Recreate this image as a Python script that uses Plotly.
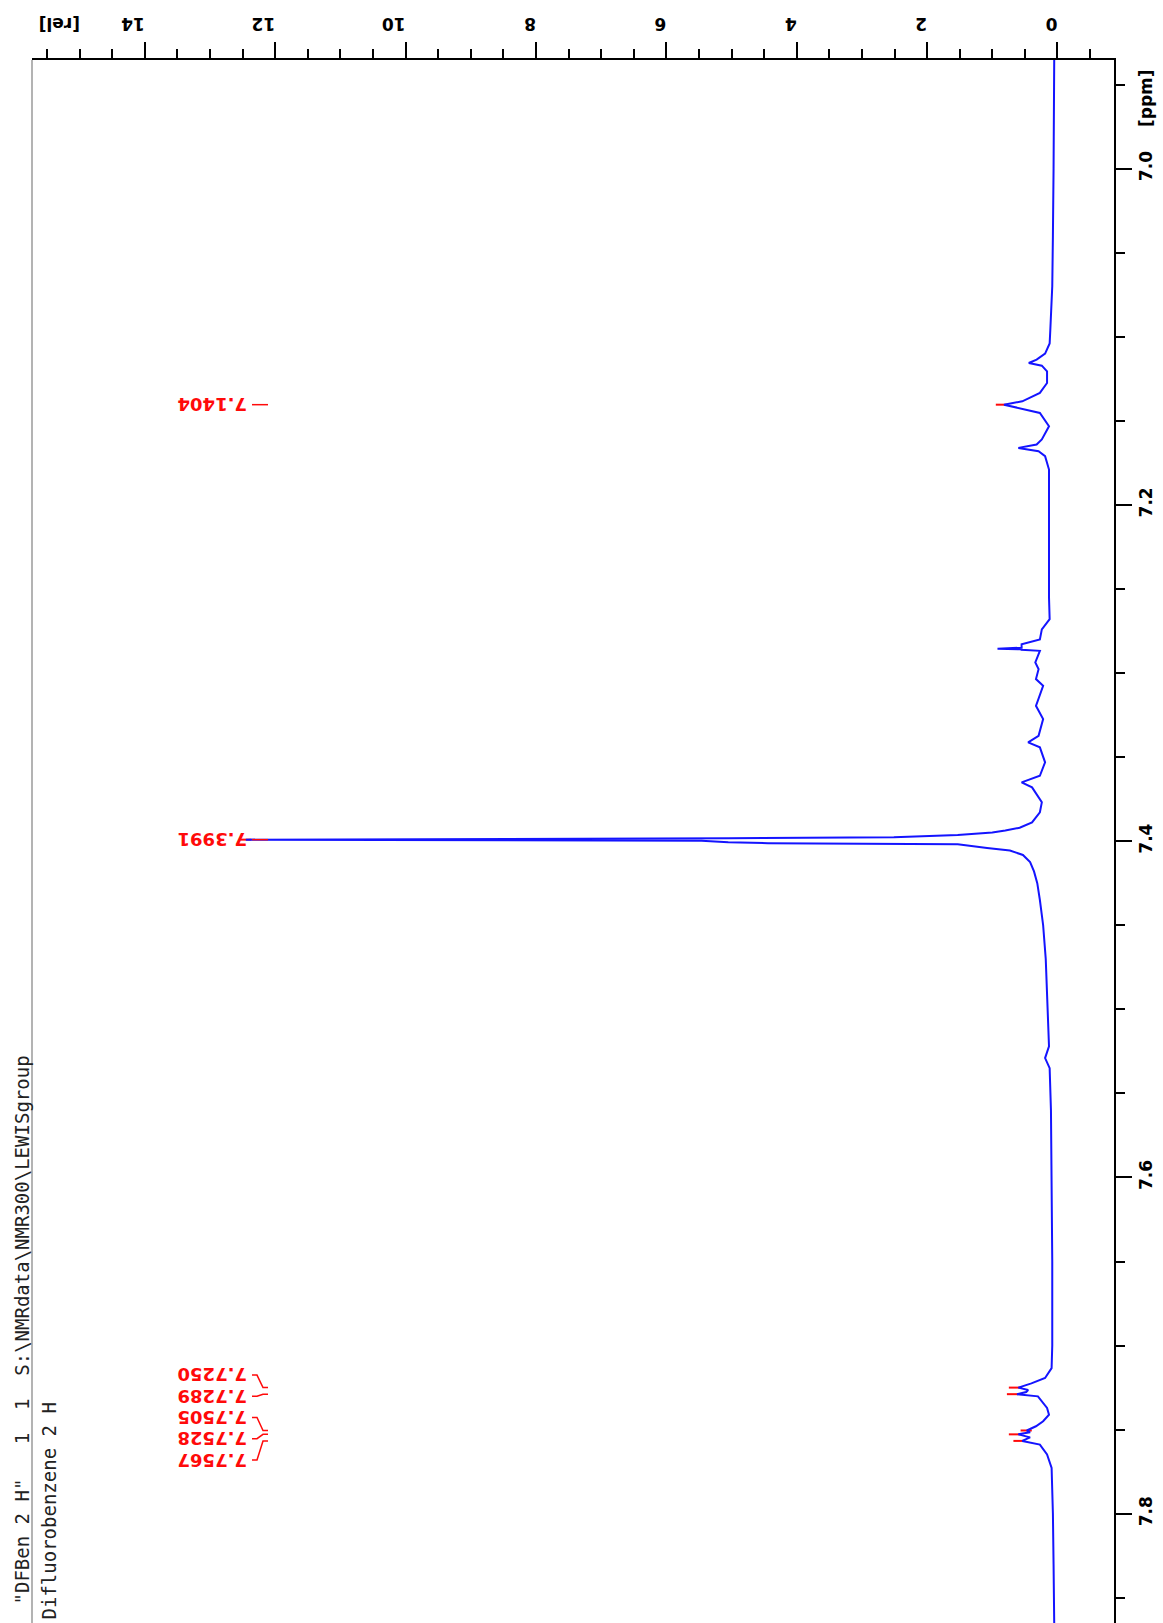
import plotly.graph_objects as go

# 1H NMR trace of difluorobenzene (chemical shift in ppm vs. relative intensity)
spec_ppm = [
    6.935, 6.960, 7.000, 7.040, 7.070, 7.096, 7.104, 7.110, 7.1136, 7.1156,
    7.1172, 7.1206, 7.1275, 7.1334, 7.1384, 7.1404, 7.1433, 7.1453, 7.1532, 7.1611,
    7.1641, 7.1661, 7.1681, 7.1710, 7.1790, 7.200, 7.230, 7.255, 7.268, 7.274,
    7.280, 7.2829, 7.2849, 7.2852, 7.2856, 7.2859, 7.2862, 7.2868, 7.2937, 7.2977,
    7.3036, 7.3076, 7.3195, 7.3274, 7.3373, 7.3412, 7.3442, 7.3531, 7.3611, 7.3650,
    7.3680, 7.3769, 7.3828, 7.3888, 7.3920, 7.3937, 7.3949, 7.3963, 7.3977, 7.3983,
    7.3991, 7.3997, 7.4006, 7.4012, 7.4018, 7.4040, 7.4056, 7.4082, 7.4124, 7.418,
    7.425, 7.435, 7.450, 7.470, 7.500, 7.522, 7.529, 7.535, 7.560, 7.600,
    7.650, 7.700, 7.7134, 7.7193, 7.7225, 7.7250, 7.7264, 7.7276, 7.7289, 7.7302,
    7.7340, 7.7371, 7.7411, 7.7450, 7.7480, 7.7505, 7.7516, 7.7528, 7.7546, 7.7567,
    7.7589, 7.7648, 7.7727, 7.800, 7.830, 7.865,
]
spec_int = [
    0.05, 0.05, 0.06, 0.07, 0.08, 0.11, 0.12, 0.19, 0.32, 0.44,
    0.24, 0.16, 0.16, 0.27, 0.54, 0.82, 0.50, 0.27, 0.13, 0.24,
    0.32, 0.60, 0.29, 0.19, 0.13, 0.13, 0.14, 0.13, 0.12, 0.24,
    0.27, 0.55, 0.55, 0.92, 0.92, 0.55, 0.55, 0.27, 0.34, 0.29,
    0.33, 0.22, 0.33, 0.22, 0.29, 0.45, 0.27, 0.19, 0.27, 0.55,
    0.39, 0.24, 0.27, 0.39, 0.58, 0.80, 1.00, 1.53, 2.51, 5.05,
    12.45, 5.46, 5.05, 4.44, 1.53, 1.08, 0.73, 0.53, 0.42, 0.36,
    0.31, 0.27, 0.22, 0.18, 0.15, 0.13, 0.19, 0.12, 0.10, 0.09,
    0.08, 0.08, 0.09, 0.19, 0.40, 0.60, 0.45, 0.48, 0.62, 0.30,
    0.22, 0.16, 0.13, 0.22, 0.33, 0.47, 0.42, 0.60, 0.42, 0.54,
    0.27, 0.16, 0.09, 0.07, 0.06, 0.05,
]

# picked peaks and the intensity of their pick marks
peak_ppm = [7.1404, 7.3991, 7.7250, 7.7289, 7.7505, 7.7528, 7.7567]
pick_int = [0.86, 12.45, 0.66, 0.69, 0.48, 0.66, 0.59]

int_ticks = [0, 2, 4, 6, 8, 10, 12, 14]
ppm_ticks = [7.0, 7.2, 7.4, 7.6, 7.8]

NB = "\u00a0"
header_line1 = '"DFBen 2 H"' + NB * 3 + "1" + NB * 2 + "1" + NB * 2 + "S:\\NMRdata\\NMR300\\LEWISgroup"
header_line2 = "Difluorobenzene 2 H"

# ---- figure geometry -------------------------------------------------------
W, H = 1163, 1623
ML, MR, MT, MB = 32, 49, 60, 0
PW, PH = W - ML - MR, H - MT - MB
X_RANGE = [15.73, -0.867]     # intensity axis, reversed (0 on the right)
Y_RANGE = [7.865, 6.9354]     # ppm axis, increasing downward


def px_to_int(X):
    return X_RANGE[0] + (X - ML) / PW * (X_RANGE[1] - X_RANGE[0])


def px_to_paper_x(X):
    return (X - ML) / PW


def px_to_paper_y(Y):
    return (H - Y) / PH


PPM_PER_PX = (Y_RANGE[0] - Y_RANGE[1]) / PH

# spread labels of crowded peaks so they don't overlap
label_gap = 21.2 * PPM_PER_PX
clusters, cur = [], [0]
for i in range(1, len(peak_ppm)):
    if peak_ppm[i] - peak_ppm[i - 1] < 0.05:
        cur.append(i)
    else:
        clusters.append(cur)
        cur = [i]
clusters.append(cur)
label_ppm = [0.0] * len(peak_ppm)
for c in clusters:
    mean = sum(peak_ppm[i] for i in c) / len(c)
    for k, i in enumerate(c):
        label_ppm[i] = mean + (k - (len(c) - 1) / 2) * label_gap

RED = "#ff0a0a"
BLUE = "#1414ff"

fig = go.Figure()

# peak-pick marks next to the spectrum
fig.add_trace(go.Scatter(
    x=pick_int, y=peak_ppm, mode="markers", hoverinfo="skip",
    marker=dict(symbol="line-ew", size=8, line=dict(width=2, color=RED)),
))

# spectrum
fig.add_trace(go.Scatter(
    x=spec_int, y=spec_ppm, mode="lines", hoverinfo="skip",
    line=dict(color=BLUE, width=2),
))

# connectors from labels to peak positions
cx, cy = [], []
for lp, pp in zip(label_ppm, peak_ppm):
    cx += [px_to_int(252), px_to_int(257), px_to_int(263), px_to_int(268), None]
    cy += [lp, lp, pp, pp, None]
fig.add_trace(go.Scatter(
    x=cx, y=cy, mode="lines", hoverinfo="skip",
    line=dict(color=RED, width=1.5),
))

annotations = []
for lp, pp in zip(label_ppm, peak_ppm):
    annotations.append(dict(
        text=f"{pp:.4f}", xref="paper", yref="y",
        x=px_to_paper_x(248), y=lp, xanchor="right", yanchor="middle",
        textangle=180, showarrow=False, borderpad=0,
        font=dict(family="DejaVu Sans", size=18, color=RED, weight="bold"),
    ))

axis_font = dict(family="DejaVu Sans", size=17, color="black", weight="bold")
mono_font = dict(family="DejaVu Sans Mono", size=19, color="#222")
annotations += [
    dict(text="[rel]", xref="paper", yref="paper",
         x=px_to_paper_x(60), y=px_to_paper_y(24), xanchor="center", yanchor="middle",
         textangle=180, showarrow=False, font=axis_font),
    dict(text="[ppm]", xref="paper", yref="paper",
         x=px_to_paper_x(1146), y=px_to_paper_y(98), xanchor="center", yanchor="middle",
         textangle=-90, showarrow=False, font=axis_font),
    dict(text=header_line1, xref="paper", yref="paper",
         x=px_to_paper_x(21), y=px_to_paper_y(1055), xanchor="center", yanchor="top",
         textangle=-90, showarrow=False, borderpad=0, font=mono_font),
    dict(text=header_line2, xref="paper", yref="paper",
         x=px_to_paper_x(48), y=px_to_paper_y(1621), xanchor="center", yanchor="bottom",
         textangle=-90, showarrow=False, borderpad=0, font=mono_font),
]

fig.update_layout(
    width=W, height=H,
    margin=dict(l=ML, r=MR, t=MT, b=MB),
    paper_bgcolor="white", plot_bgcolor="white",
    showlegend=False,
    annotations=annotations,
    shapes=[dict(type="line", xref="paper", yref="paper", x0=0, x1=0, y0=0, y1=1,
                 line=dict(color="#9a9a9a", width=1.5))],
    xaxis=dict(
        range=X_RANGE, side="top", showline=True, linecolor="black", linewidth=2,
        ticks="outside", ticklen=16, tickwidth=1.5, tickcolor="black",
        tickvals=int_ticks, tickangle=180, tickfont=axis_font, ticklabelstandoff=0,
        showgrid=False, zeroline=False,
        minor=dict(dtick=0.5, tick0=0, ticks="outside", ticklen=9, tickwidth=1.5,
                   tickcolor="black", showgrid=False),
    ),
    yaxis=dict(
        range=Y_RANGE, side="right", showline=True, linecolor="black", linewidth=2,
        ticks="outside", ticklen=16, tickwidth=1.5, tickcolor="black",
        tickvals=ppm_ticks, ticktext=[f"{v:.1f}" for v in ppm_ticks],
        tickangle=-90, tickfont=axis_font, ticklabelstandoff=0,
        showgrid=False, zeroline=False,
        minor=dict(dtick=0.05, tick0=7.0, ticks="outside", ticklen=9, tickwidth=1.5,
                   tickcolor="black", showgrid=False),
    ),
)

fig.write_html("out.html")
